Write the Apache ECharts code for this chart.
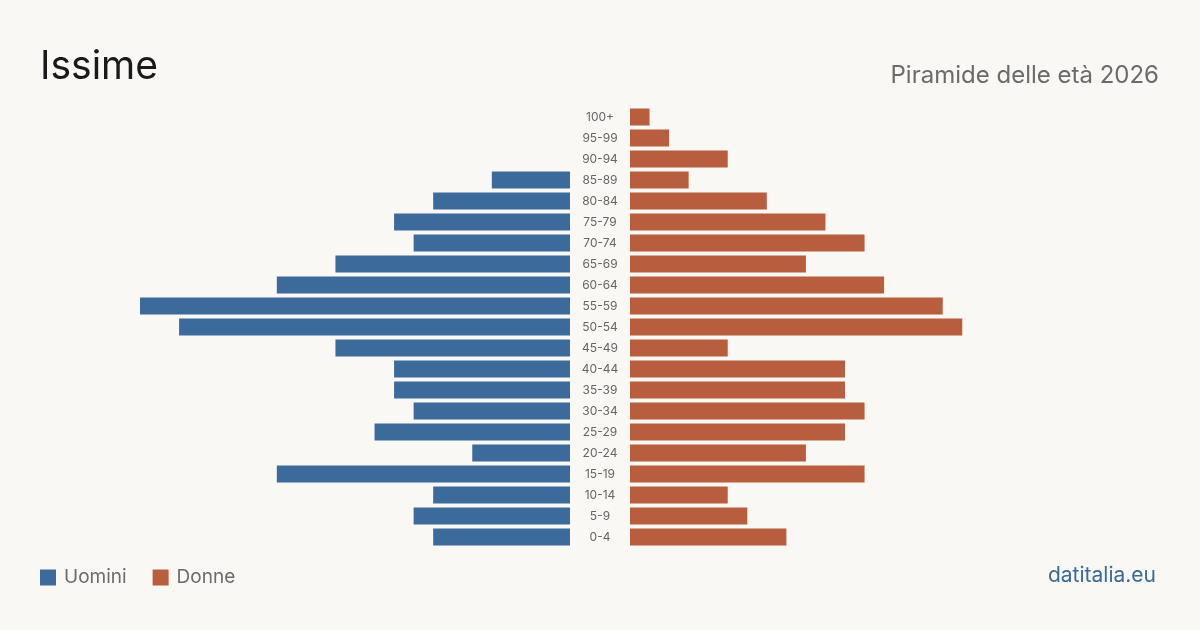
<!DOCTYPE html>
<html>
  <head>
    <meta charset="utf-8">
    <title>Issime - Piramide delle età 2026</title>
    <script src="https://cdn.jsdelivr.net/npm/echarts@6/dist/echarts.min.js"></script>
    <style>
      html, body { margin: 0; padding: 0; background: #f9f8f4; }
      #chart { width: 1200px; height: 630px; }
    </style>
  </head>
  <body>
    <div id="chart"></div>
    <script type="text/javascript">

      // age classes, top to bottom
      var ageClasses = ["100+", "95-99", "90-94", "85-89", "80-84", "75-79", "70-74", "65-69", "60-64", "55-59",
                        "50-54", "45-49", "40-44", "35-39", "30-34", "25-29", "20-24", "15-19", "10-14", "5-9", "0-4"];
      var uomini = [0, 0, 0, 4, 7, 9, 8, 12, 15, 22, 20, 12, 9, 9, 8, 10, 5, 15, 7, 8, 7];
      var donne  = [1, 2, 5, 3, 7, 10, 12, 9, 13, 16, 17, 5, 11, 11, 12, 11, 9, 12, 5, 6, 8];
      var maxVal = 22;

      var blue = "#3b6a9b";
      var red = "#b85d3d";
      var font = "Inter, 'Noto Sans', sans-serif";

      var myChart = echarts.init(document.getElementById('chart'));

      var option = {
        backgroundColor: "#f9f8f4",
        animation: false,
        textStyle: { fontFamily: font },
        graphic: [
          { type: "text", left: 40, top: 48, style: { text: "Issime", fontSize: 39, fill: "#1a1a1a", fontFamily: font } },
          { type: "text", right: 41, top: 64, style: { text: "Piramide delle età 2026", fontSize: 24, fill: "#6b6b6b", fontFamily: font } },
          { type: "text", right: 44, top: 565, style: { text: "datitalia.eu", fontSize: 21, fill: "#3b6a9b", fontFamily: font } }
        ],
        legend: {
          left: 35,
          top: 563,
          itemWidth: 16,
          itemHeight: 16,
          itemGap: 26,
          icon: "rect",
          textStyle: { fontSize: 19, color: "#6b6b6b", fontFamily: font, padding: [0, 0, 0, 3] },
          data: ["Uomini", "Donne"]
        },
        grid: [
          { left: 140, top: 106.5, width: 430, height: 441 },
          { left: 630, top: 106.5, width: 430, height: 441 }
        ],
        xAxis: [
          { type: "value", gridIndex: 0, inverse: true, min: 0, max: maxVal, show: false },
          { type: "value", gridIndex: 1, min: 0, max: maxVal, show: false }
        ],
        yAxis: [
          { type: "category", gridIndex: 0, data: ageClasses, inverse: true, show: false },
          {
            type: "category", gridIndex: 1, data: ageClasses, inverse: true, position: "left",
            axisLine: { show: false }, axisTick: { show: false }, splitLine: { show: false },
            axisLabel: { align: "center", margin: 30, fontSize: 12, color: "#666666", fontFamily: font }
          }
        ],
        series: [
          { name: "Uomini", type: "bar", xAxisIndex: 0, yAxisIndex: 0, data: uomini, barWidth: 17, itemStyle: { color: blue } },
          { name: "Donne", type: "bar", xAxisIndex: 1, yAxisIndex: 1, data: donne, barWidth: 17, itemStyle: { color: red } }
        ]
      };

      myChart.setOption(option);
    </script>
  </body>
</html>
